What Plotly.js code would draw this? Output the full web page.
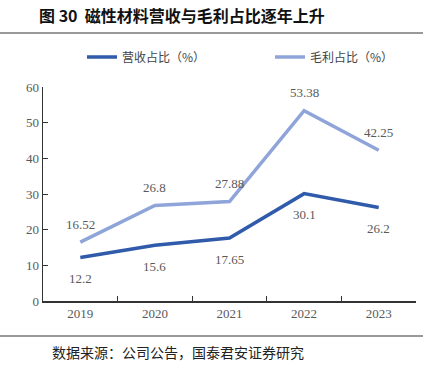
<!DOCTYPE html>
<html><head><meta charset="utf-8">
<script src="https://cdn.plot.ly/plotly-3.0.1.min.js"></script>
<style>html,body{margin:0;padding:0;background:#fff;}#chart{width:429px;height:369px;}</style>
</head><body><div id="chart"></div>
<script>
const years = ['2019','2020','2021','2022','2023'];
const revenueShare = [12.2, 15.6, 17.65, 30.1, 26.2];
const grossShare = [16.52, 26.8, 27.88, 53.38, 42.25];
const revenueName = '营收占比（%）';
const grossName = '毛利占比（%）';
const titleText = '图 30  磁性材料营收与毛利占比逐年上升';
const sourceText = '数据来源：公司公告，国泰君安证券研究';

const darkBlue = '#2F5BAA';
const lightBlue = '#8FA4D8';
const labelFont = {family: '"Liberation Serif", "Times New Roman", serif', size: 13, color: '#595959'};

const traces = [
  {x: years, y: revenueShare, name: revenueName, type: 'scatter', mode: 'lines',
   line: {color: darkBlue, width: 3.5}},
  {x: years, y: grossShare, name: grossName, type: 'scatter', mode: 'lines',
   line: {color: lightBlue, width: 3.5}}
];

const annotations = [];
years.forEach((yr, i) => {
  annotations.push({x: i, y: grossShare[i], xref: 'x', yref: 'y', text: String(grossShare[i]),
    showarrow: false, yshift: 18, font: labelFont});
  annotations.push({x: i, y: revenueShare[i], xref: 'x', yref: 'y', text: String(revenueShare[i]),
    showarrow: false, yshift: -21, font: labelFont});
});
// plot area: x 43..416 (373px), y 87..301 (214px)
annotations.push({x: -6/373, y: (301 - 15)/214, xref: 'paper', yref: 'paper', xanchor: 'left', yanchor: 'middle',
  text: '<b>' + titleText + '</b>', showarrow: false,
  font: {family: '"Noto Sans CJK SC", sans-serif', size: 16, color: '#111'}});
annotations.push({x: 7/373, y: (301 - 352)/214, xref: 'paper', yref: 'paper', xanchor: 'left', yanchor: 'middle',
  text: sourceText, showarrow: false,
  font: {family: '"Noto Sans CJK SC", sans-serif', size: 14, color: '#222'}});

const layout = {
  width: 429, height: 369,
  margin: {l: 43, r: 13, t: 87, b: 68},
  paper_bgcolor: '#fff', plot_bgcolor: '#fff',
  showlegend: true,
  legend: {orientation: 'h', x: 82/429, xanchor: 'left', xref: 'container',
    y: 1 - 57/369, yanchor: 'middle', yref: 'container',
    font: {family: '"Noto Sans CJK SC", sans-serif', size: 12, color: '#444'},
    itemwidth: 30, tracegroupgap: 0, entrywidth: 143},
  xaxis: {type: 'category', range: [-0.5, 4.5], autorange: false, showline: true, linecolor: '#333', linewidth: 1.5,
    ticks: 'inside', tickson: 'boundaries', ticklen: 5, tickcolor: '#333', tickwidth: 1,
    showgrid: false, zeroline: false, fixedrange: true,
    tickfont: {family: '"Liberation Serif", serif', size: 13, color: '#595959'}},
  yaxis: {range: [0, 60], autorange: false, dtick: 10, showline: true, linecolor: '#333', linewidth: 1.5,
    ticks: 'inside', ticklen: 5, tickcolor: '#333', tickwidth: 1,
    showgrid: false, zeroline: false,
    tickfont: {family: '"Liberation Serif", serif', size: 13, color: '#595959'}},
  annotations: annotations,
  shapes: [
    {type: 'line', xref: 'paper', yref: 'paper', x0: -43/373, x1: 380/373, y0: (301 - 33)/214, y1: (301 - 33)/214,
      line: {color: '#777', width: 1.5}},
    {type: 'line', xref: 'paper', yref: 'paper', x0: -43/373, x1: 380/373, y0: (301 - 336)/214, y1: (301 - 336)/214,
      line: {color: '#777', width: 1.5}}
  ]
};
Plotly.newPlot('chart', traces, layout, {displayModeBar: false, staticPlot: true});
</script></body></html>
